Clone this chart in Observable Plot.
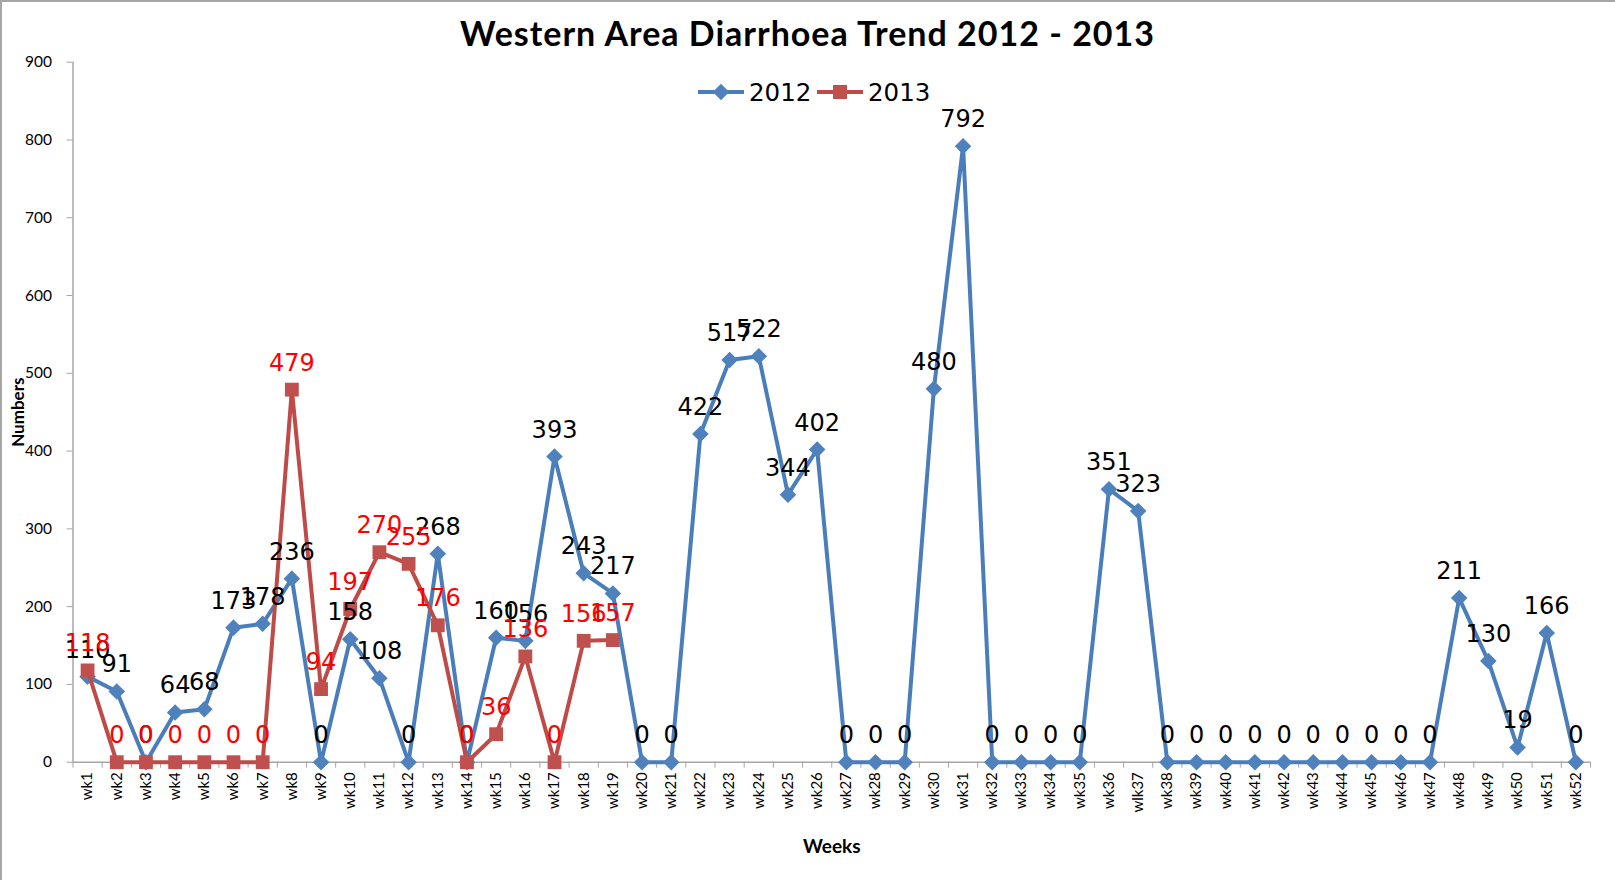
<!DOCTYPE html>
<html>
<head>
<meta charset="utf-8">
<script src="https://cdn.jsdelivr.net/npm/d3@7"></script>
<script src="https://cdn.jsdelivr.net/npm/@observablehq/plot@0.6"></script>
<style>
  html, body { margin: 0; padding: 0; background: #fff; }
  #wrap { position: relative; width: 1615px; height: 880px; overflow: hidden; }
  #frame { position: absolute; left: 0; top: 0; width: 1615px; height: 880px; box-sizing: border-box;
           border-top: 2px solid #a6a6a6; border-left: 2px solid #a6a6a6; pointer-events: none; }
  #title { position: absolute; left: 0; width: 1615px; top: 12px; text-align: center;
           font-family: Lato, "Liberation Sans", sans-serif; font-weight: bold; font-size: 34px;
           letter-spacing: 1px; color: #000; }
  #chart { position: absolute; left: 0; top: 0; }
  #legend { position: absolute; left: 0; top: 0; }
</style>
</head>
<body>
<div id="wrap">
  <div id="chart"></div>
  <div id="title">Western Area Diarrhoea Trend 2012 - 2013</div>
  <svg id="legend" width="1615" height="130"></svg>
  <div id="frame"></div>
</div>
<script>
// ---- data ----
const weeks = ["wk1","wk2","wk3","wk4","wk5","wk6","wk7","wk8","wk9","wk10",
  "wk11","wk12","wk13","wk14","wk15","wk16","wk17","wk18","wk19","wk20",
  "wk21","wk22","wk23","wk24","wk25","wk26","wk27","wk28","wk29","wk30",
  "wk31","wk32","wk33","wk34","wk35","wk36","wlk37","wk38","wk39","wk40",
  "wk41","wk42","wk43","wk44","wk45","wk46","wk47","wk48","wk49","wk50",
  "wk51","wk52"];
const cases2012 = [110,91,0,64,68,173,178,236,0,158,
  108,0,268,0,160,156,393,243,217,0,
  0,422,517,522,344,402,0,0,0,480,
  792,0,0,0,0,351,323,0,0,0,
  0,0,0,0,0,0,0,211,130,19,
  166,0];
const cases2013 = [118,0,0,0,0,0,0,479,94,197,
  270,255,176,0,36,136,0,156,157];
const seriesNames = ["2012","2013"];
const yTicks = [0,100,200,300,400,500,600,700,800,900];

// ---- styles ----
const blue = "#4a7ebb", blueMark = "#4f81bd";
const red = "#be4b48", redMark = "#c0504d";
const axisGray = "#a6a6a6";

const rows2012 = cases2012.map((v, i) => ({pos: i + 1, week: weeks[i], value: v}));
const rows2013 = cases2013.map((v, i) => ({pos: i + 1, week: weeks[i], value: v}));

const chart = Plot.plot({
  width: 1615,
  height: 880,
  marginLeft: 72.5,
  marginRight: 25,
  marginTop: 61.7,
  marginBottom: 118.3,
  style: {background: "transparent", overflow: "visible"},
  x: {type: "linear", domain: [0.5, weeks.length + 0.5]},
  y: {domain: [0, 900]},
  marks: [
    // axis lines
    Plot.ruleX([0.5], {stroke: axisGray, strokeWidth: 1.5}),
    Plot.ruleY([0], {stroke: axisGray, strokeWidth: 1.5}),
    // y axis
    Plot.axisY({ticks: yTicks, tickSize: 6, tickPadding: 15, stroke: axisGray, fill: "#000",
      fontSize: 15.5, fontFamily: "Lato", label: null}),
    // x tick marks at category boundaries
    Plot.axisX({ticks: d3.range(0.5, weeks.length + 1, 1), tickSize: 6, stroke: axisGray, text: null, label: null}),
    // x category labels
    Plot.axisX({ticks: d3.range(1, weeks.length + 1), tickFormat: i => weeks[i - 1], tickSize: 0,
      tickPadding: 10, tickRotate: -90, fill: "#000", fontSize: 15, fontFamily: "Lato", label: null}),
    // axis titles
    Plot.text(["Weeks"], {frameAnchor: "bottom", lineAnchor: "middle", textAnchor: "middle", dy: 85,
      fontWeight: "bold", fontSize: 19, fontFamily: "Lato", fill: "#000"}),
    Plot.text(["Numbers"], {frameAnchor: "left", lineAnchor: "middle", textAnchor: "middle", dx: -54, rotate: -90,
      fontWeight: "bold", fontSize: 17, fontFamily: "Lato", fill: "#000"}),
    // 2012
    Plot.line(rows2012, {x: "pos", y: "value", stroke: blue, strokeWidth: 4, strokeLinejoin: "round"}),
    Plot.dot(rows2012, {x: "pos", y: "value", symbol: "square", rotate: 45, r: 6.6, fill: blueMark, stroke: "none"}),
    // 2013
    Plot.line(rows2013, {x: "pos", y: "value", stroke: red, strokeWidth: 4, strokeLinejoin: "round"}),
    Plot.dot(rows2013, {x: "pos", y: "value", symbol: "square", r: 7.8, fill: redMark, stroke: "none"}),
    // data labels
    Plot.text(rows2012, {x: "pos", y: "value", text: d => String(d.value), lineAnchor: "bottom", dy: -19,
      fontSize: 24, fontFamily: "DejaVu Sans", fill: "#000"}),
    Plot.text(rows2013, {x: "pos", y: "value", text: d => String(d.value), lineAnchor: "bottom", dy: -19,
      fontSize: 24, fontFamily: "DejaVu Sans", fill: "#ff0000"})
  ]
});
document.getElementById("chart").appendChild(chart);

// ---- legend ----
const lg = d3.select("#legend");
const items = [
  {name: seriesNames[0], x0: 698, line: blue, mark: blueMark, shape: "diamond"},
  {name: seriesNames[1], x0: 817, line: red, mark: redMark, shape: "square"}
];
const ly = 92;
items.forEach(it => {
  lg.append("line").attr("x1", it.x0).attr("x2", it.x0 + 46).attr("y1", ly).attr("y2", ly)
    .attr("stroke", it.line).attr("stroke-width", 4);
  const cx = it.x0 + 23;
  if (it.shape === "diamond") {
    lg.append("rect").attr("x", -5.8).attr("y", -5.8).attr("width", 11.6).attr("height", 11.6)
      .attr("transform", `translate(${cx},${ly}) rotate(45)`).attr("fill", it.mark);
  } else {
    lg.append("rect").attr("x", cx - 7).attr("y", ly - 7).attr("width", 14).attr("height", 14).attr("fill", it.mark);
  }
  lg.append("text").attr("x", it.x0 + 51).attr("y", ly + 9).attr("font-family", "DejaVu Sans")
    .attr("font-size", 24.5).attr("fill", "#000").text(it.name);
});
</script>
</body>
</html>
